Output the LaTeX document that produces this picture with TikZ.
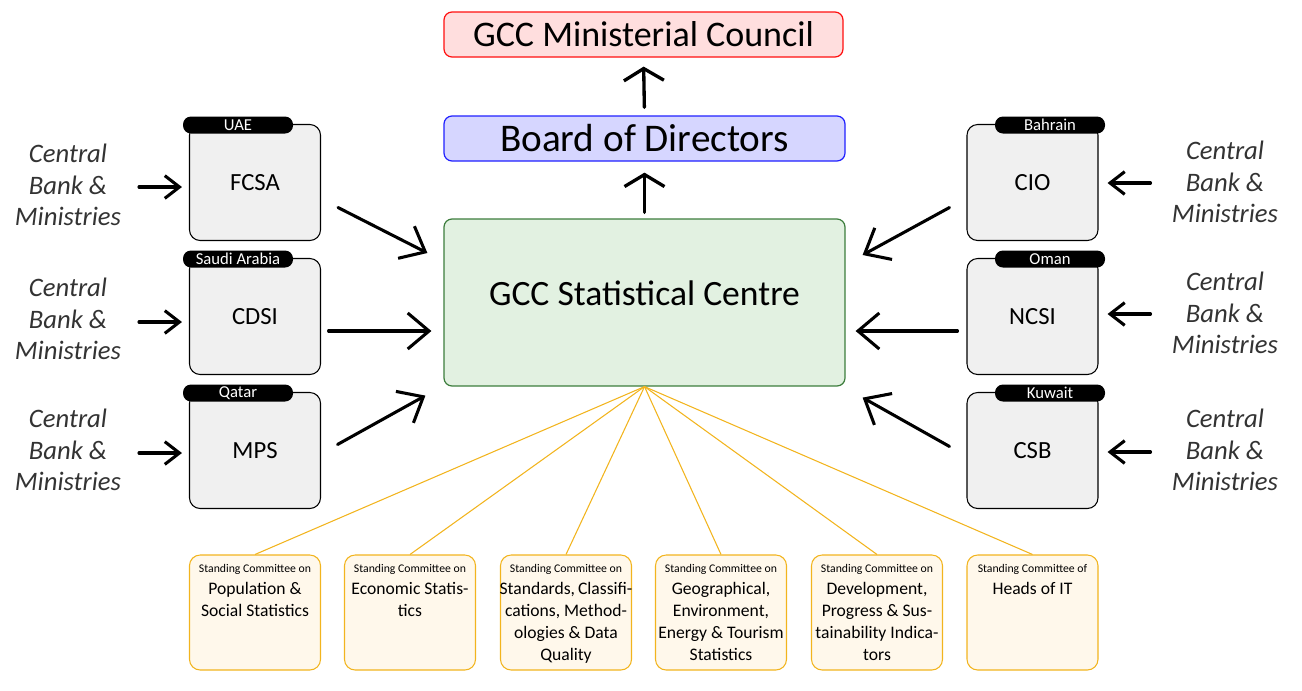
\documentclass[tikz,border=0pt]{standalone}
\usepackage{fontspec}
\setmainfont{Carlito}
\usetikzlibrary{arrows.meta}
\definecolor{cbtext}{HTML}{333333}
\definecolor{cmfill}{HTML}{FFF8EB}
\definecolor{cmdraw}{HTML}{F2B41E}
\definecolor{cyfill}{HTML}{F0F0F0}
\definecolor{gcfill}{HTML}{E2F1E1}
\definecolor{gcdraw}{HTML}{3C7D3C}
\definecolor{bdfill}{HTML}{D6D6FF}
\definecolor{bddraw}{HTML}{2020FF}
\definecolor{mcfill}{HTML}{FFDEDE}
\definecolor{mcdraw}{HTML}{FF1010}
\newcommand\scsmall{\fontsize{8.8}{10}\selectfont}
\tikzset{
  mainbox/.style={draw, line width=0.9pt, rounded corners=6pt, minimum width=401*0.75pt, inner sep=0pt},
  countrybox/.style={draw=black, fill=cyfill, line width=0.8pt, rounded corners=8pt, minimum width=131*0.75pt, minimum height=116*0.75pt, inner sep=0pt, font=\fontsize{18.5}{20}\selectfont},
  tagbox/.style={fill=black, rounded corners=6pt, minimum width=110*0.75pt, minimum height=17*0.75pt, inner sep=0pt, text=white, font=\fontsize{12.5}{13}\selectfont},
  cbtxt/.style={align=center, text=cbtext, font=\fontsize{20}{23.5}\selectfont\itshape},
  combox/.style={draw=cmdraw, fill=cmfill, line width=0.8pt, rounded corners=8pt, minimum width=131*0.75pt, minimum height=115*0.75pt, inner sep=0pt},
  comtxt/.style={align=center, anchor=north, inner sep=0pt, font=\fontsize{13.2}{16.5}\selectfont},
  fanline/.style={draw=cmdraw, line width=0.8pt},
  smallarr/.style={line width=2.3pt, line cap=round, -{Straight Barb[length=11pt, width=17pt, line width=2.3pt]}},
  bigarr/.style={line width=2.3pt, line cap=round, -{Straight Barb[length=16pt, width=27pt, line width=2.3pt]}},
  uparr/.style={line width=2.5pt, line cap=round, -{Straight Barb[length=9pt, width=30pt, line width=2.5pt]}},
}
\begin{document}
\begin{tikzpicture}[x=0.75pt, y=-0.75pt]
\useasboundingbox (0,0) rectangle (1302,690);

% main column
\node[mainbox, draw=mcdraw, fill=mcfill, minimum width=399*0.75pt, minimum height=45*0.75pt, font=\fontsize{27}{28}\selectfont] (council) at (643.5,34.5) {GCC Ministerial Council};
\node[mainbox, draw=bddraw, fill=bdfill, minimum height=45*0.75pt, font=\fontsize{29.4}{30}\selectfont] (board) at (644.5,138.5) {Board of Directors};
\node[mainbox, draw=gcdraw, fill=gcfill, minimum height=167*0.75pt] (centre) at (644.5,302.5) {};
\node[font=\fontsize{26.7}{28}\selectfont] (centretxt) at ([shift={(0,-9)}]centre.center) {GCC Statistical Centre};

\draw[uparr, shorten <=6*0.75pt, shorten >=11*0.75pt] (centre.north) -- (board.south);
\draw[uparr, shorten <=8*0.75pt, shorten >=9*0.75pt] (board.north) -- (council.south);

% left countries
\node[countrybox] (fcsa) at (255,182.5) {FCSA};
\node[countrybox] (cdsi) at (255,316.5) {CDSI};
\node[countrybox] (mps) at (255,450.5) {MPS};
\node[tagbox] (tuae) at (238,125) {UAE};
\node[tagbox] (tksa) at (238,259) {Saudi Arabia};
\node[tagbox] (tqat) at (238,393) {Qatar};

% right countries
\node[countrybox] (cio) at (1032.5,182.5) {CIO};
\node[countrybox] (ncsi) at (1032.5,316.5) {NCSI};
\node[countrybox] (csb) at (1032.5,450.5) {CSB};
\node[tagbox] (tbah) at (1050,125) {Bahrain};
\node[tagbox] (toma) at (1050,259) {Oman};
\node[tagbox] (tkuw) at (1050,393) {Kuwait};

% central bank texts
\node[cbtxt] (cbl1) at (68,185) {Central\\Bank \&\\Ministries};
\node[cbtxt] (cbl2) at (68,319) {Central\\Bank \&\\Ministries};
\node[cbtxt] (cbl3) at (68,450) {Central\\Bank \&\\Ministries};
\node[cbtxt] (cbr1) at (1225,182) {Central\\Bank \&\\Ministries};
\node[cbtxt] (cbr2) at (1225,313) {Central\\Bank \&\\Ministries};
\node[cbtxt] (cbr3) at (1225,450) {Central\\Bank \&\\Ministries};

\draw[smallarr] ([shift={(-50,4.5)}]fcsa.west) -- ([shift={(-7,4.5)}]fcsa.west);
\draw[smallarr] ([shift={(-50,5.5)}]cdsi.west) -- ([shift={(-7,5.5)}]cdsi.west);
\draw[smallarr] ([shift={(-50,2.5)}]mps.west) -- ([shift={(-7,2.5)}]mps.west);
\draw[smallarr] ([shift={(52,0.5)}]cio.east) -- ([shift={(9,0.5)}]cio.east);
\draw[smallarr] ([shift={(52,-2.5)}]ncsi.east) -- ([shift={(9,-2.5)}]ncsi.east);
\draw[smallarr] ([shift={(52,1.5)}]csb.east) -- ([shift={(9,1.5)}]csb.east);

% big arrows into centre
\draw[bigarr] ([shift={(17,-33.5)}]fcsa.south east) -- ([shift={(-16,-49.5)}]centre.west);
\draw[bigarr] ([shift={(7.5,14.5)}]cdsi.east) -- ([shift={(-12,28.5)}]centre.west);
\draw[bigarr] ([shift={(16.5,52.5)}]mps.north east) -- ([shift={(-18,9)}]centre.south west);
\draw[bigarr] ([shift={(-17,-33.5)}]cio.south west) -- ([shift={(17,-47.5)}]centre.east);
\draw[bigarr] ([shift={(-9,14.5)}]ncsi.west) -- ([shift={(10,28.5)}]centre.east);
\draw[bigarr] ([shift={(-17,54.5)}]csb.north west) -- ([shift={(17,11)}]centre.south east);

% committees
\foreach \n/\x in {1/255,2/410,3/566,4/721,5/877,6/1032.5}{
  \node[combox] (com\n) at (\x,612.5) {};
  \draw[fanline] (centre.south) -- (com\n.north);
}
\node[comtxt] (ct1) at ([shift={(0,10)}]com1.north) {{\scsmall Standing Committee on}\\Population \&\\Social Statistics};
\node[comtxt] (ct2) at ([shift={(0,10)}]com2.north) {{\scsmall Standing Committee on}\\Economic Statis-\\tics};
\node[comtxt] (ct3) at ([shift={(0,10)}]com3.north) {{\scsmall Standing Committee on}\\Standards,\,Classifi-\\cations, Method-\\ologies \& Data\\Quality};
\node[comtxt] (ct4) at ([shift={(0,10)}]com4.north) {{\scsmall Standing Committee on}\\Geographical,\\Environment,\\Energy \& Tourism\\Statistics};
\node[comtxt] (ct5) at ([shift={(0,10)}]com5.north) {{\scsmall Standing Committee on}\\Development,\\Progress \& Sus-\\tainability Indica-\\tors};
\node[comtxt] (ct6) at ([shift={(0,10)}]com6.north) {{\scsmall Standing Committee of}\\Heads of IT};
\end{tikzpicture}
\end{document}
